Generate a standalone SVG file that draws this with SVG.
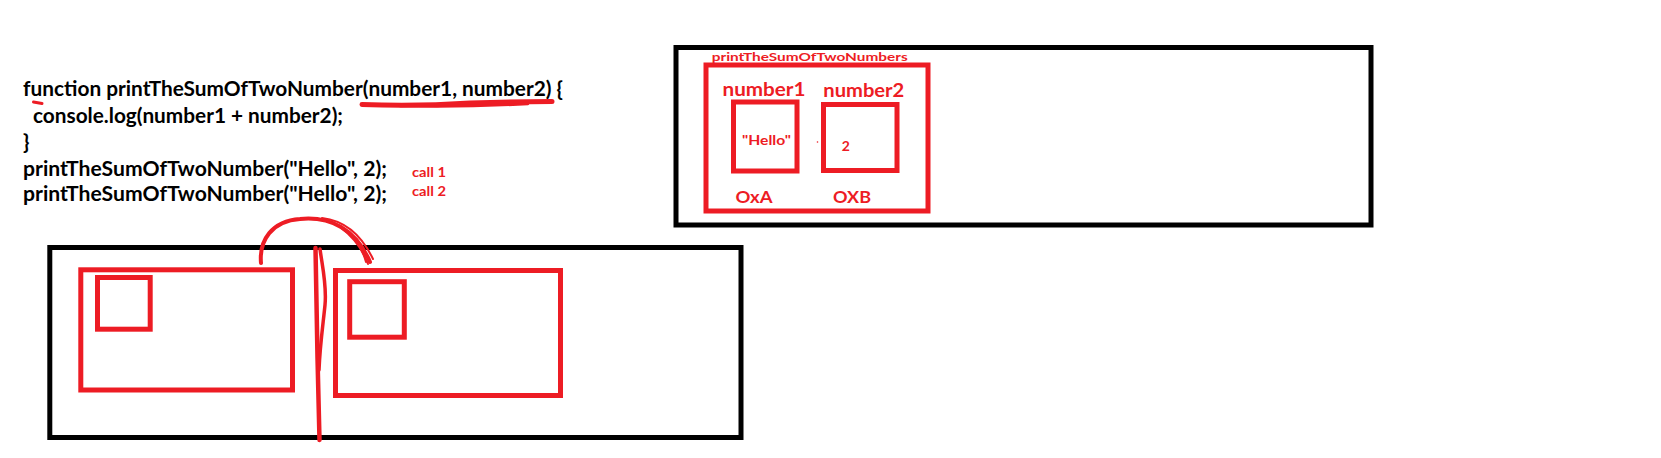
<svg xmlns="http://www.w3.org/2000/svg" width="1661" height="458" viewBox="0 0 1661 458">
<style>
.blk{fill:none;stroke:#000;stroke-width:5}
.red{fill:none;stroke:#ED1C24;stroke-width:5}
.pen{fill:none;stroke:#ED1C24;stroke-linecap:round;stroke-linejoin:round}
.code{font-family:Lato,"Liberation Sans",sans-serif;font-weight:700;font-size:21px;fill:#000}
.rt{font-family:Lato,"Liberation Sans",sans-serif;font-weight:700;fill:#ED1C24}
</style>
<rect width="1661" height="458" fill="#fff"/>
<g id="code">
<text class="code" x="23" y="96" textLength="540" lengthAdjust="spacingAndGlyphs">function printTheSumOfTwoNumber(number1, number2) {</text>
<text class="code" x="33" y="122.5" textLength="310" lengthAdjust="spacingAndGlyphs">console.log(number1 + number2);</text>
<text class="code" x="23" y="148.5">}</text>
<text class="code" x="23" y="175.5" textLength="364" lengthAdjust="spacingAndGlyphs">printTheSumOfTwoNumber("Hello", 2);</text>
<text class="code" x="23" y="201" textLength="364" lengthAdjust="spacingAndGlyphs">printTheSumOfTwoNumber("Hello", 2);</text>
<text class="rt" x="412" y="177" font-size="12.5" textLength="34" lengthAdjust="spacingAndGlyphs">call 1</text>
<text class="rt" x="412" y="195.5" font-size="12.5" textLength="34" lengthAdjust="spacingAndGlyphs">call 2</text>
</g>
<g id="memory-top">
<rect class="blk" x="676" y="47.5" width="695" height="177.5"/>
<g id="frame-top">
<rect class="red" x="706" y="65" width="222" height="146" stroke-width="4.5"/>
<text class="rt" x="711.7" y="60.7" font-size="12" textLength="196" lengthAdjust="spacingAndGlyphs">printTheSumOfTwoNumbers</text>
</g>
<g id="number1">
<text class="rt" x="722.5" y="95.7" font-size="19" textLength="83" lengthAdjust="spacingAndGlyphs">number1</text>
<rect class="red" x="733.5" y="102" width="63.5" height="69"/>
<text class="rt" x="742" y="145" font-size="14" textLength="49" lengthAdjust="spacingAndGlyphs">"Hello"</text>
<text class="rt" x="735.5" y="202.5" font-size="17" textLength="37" lengthAdjust="spacingAndGlyphs">OxA</text>
</g>
<g id="number2">
<text class="rt" x="823.3" y="97.3" font-size="19" textLength="81" lengthAdjust="spacingAndGlyphs">number2</text>
<rect class="red" x="823.5" y="104.5" width="73.5" height="66" stroke-width="4.5"/>
<text class="rt" x="841.7" y="150.7" font-size="14">2</text>
<text class="rt" x="833" y="203.3" font-size="17" textLength="38" lengthAdjust="spacingAndGlyphs">OXB</text>
</g>
<circle cx="817.5" cy="142" r="0.8" fill="#ED1C24"/>
</g>
<g id="memory-bottom">
<rect class="blk" x="49.8" y="247.5" width="691.2" height="190"/>
<g id="call1-frame">
<rect class="red" x="80.8" y="269.8" width="211.7" height="120.2"/>
<rect class="red" x="97.5" y="277.5" width="52.7" height="51.7"/>
</g>
<g id="call2-frame">
<rect class="red" x="335.5" y="270.5" width="225" height="125" stroke-width="4.5"/>
<rect class="red" x="349.7" y="281.7" width="54.6" height="55.5" stroke-width="4.5"/>
</g>
</g>
<g id="connectors">
<path class="pen" stroke-width="5" d="M 362 104.5 C 400 106, 440 105, 470 103 C 500 102, 530 101.5, 552 101.5"/>
<path class="pen" stroke-width="2.5" d="M 400 106 C 440 107, 490 106, 528 104"/>
<path class="pen" stroke-width="3" d="M 33.5 102 L 42 103.5"/>
<path class="pen" stroke-width="4" d="M 261 263 C 259 240, 272 221, 300 219 C 330 216, 356 229, 370 262"/>
<path class="pen" stroke-width="2" d="M 312 219 C 340 220, 358 234, 366 262"/>
<path class="pen" stroke-width="2" d="M 322 218 C 348 221, 363 238, 373 259"/>
<path class="pen" stroke-width="2" d="M 340 227 C 352 236, 362 248, 368 264"/>
<path class="pen" stroke-width="4.5" d="M 315.5 248 C 316 300, 318 380, 319.5 440"/>
<path class="pen" stroke-width="3.5" d="M 320 249 C 322 265, 327 285, 325 305 C 323 325, 320 345, 319 370"/>
</g>
</svg>
